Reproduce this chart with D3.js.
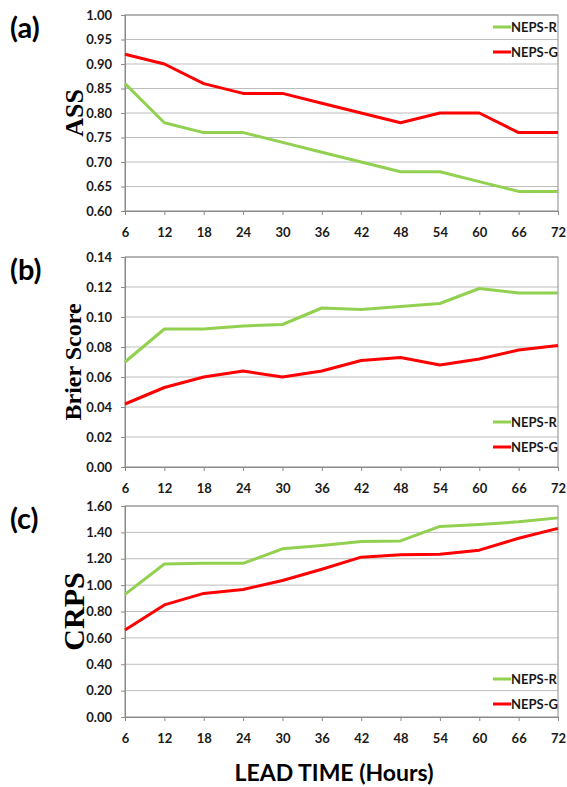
<!DOCTYPE html>
<html>
<head>
<meta charset="utf-8">
<script src="https://cdn.jsdelivr.net/npm/d3@7"></script>
<style>
  body { margin: 0; background: #fff; }
  svg text { font-family: Lato, "Open Sans", sans-serif; }
</style>
</head>
<body>
<div id="chart"></div>
<script>
// lead times (hours)
const leadTimes = [6, 12, 18, 24, 30, 36, 42, 48, 54, 60, 66, 72];
const seriesNames = ["NEPS-R", "NEPS-G"];

// (a) ASS
const assR = [0.86, 0.78, 0.76, 0.76, 0.74, 0.72, 0.70, 0.68, 0.68, 0.66, 0.64, 0.64];
const assG = [0.92, 0.90, 0.86, 0.84, 0.84, 0.82, 0.80, 0.78, 0.80, 0.80, 0.76, 0.76];
const assTicks = [0.60, 0.65, 0.70, 0.75, 0.80, 0.85, 0.90, 0.95, 1.00];

// (b) Brier Score
const brierR = [0.070, 0.092, 0.092, 0.094, 0.095, 0.106, 0.105, 0.107, 0.109, 0.119, 0.116, 0.116];
const brierG = [0.042, 0.053, 0.060, 0.064, 0.060, 0.064, 0.071, 0.073, 0.068, 0.072, 0.078, 0.081];
const brierTicks = [0, 0.02, 0.04, 0.06, 0.08, 0.10, 0.12, 0.14];

// (c) CRPS
const crpsR = [0.93, 1.16, 1.165, 1.165, 1.275, 1.30, 1.33, 1.335, 1.445, 1.46, 1.48, 1.51];
const crpsG = [0.66, 0.85, 0.937, 0.967, 1.035, 1.12, 1.212, 1.23, 1.235, 1.265, 1.355, 1.43];
const crpsTicks = [0, 0.20, 0.40, 0.60, 0.80, 1.00, 1.20, 1.40, 1.60];

const colors = { "NEPS-R": "#92d050", "NEPS-G": "#ff0000" };

const W = 567, H = 787;
const left = 125, right = 558;

const svg = d3.select("#chart").append("svg")
  .attr("width", W)
  .attr("height", H);

const x = d3.scaleLinear().domain([6, 72]).range([left, right]);

/**
 * draw one panel
 */
function drawPanel(p) {
  const y = d3.scaleLinear().domain([p.ticks[0], p.ticks[p.ticks.length - 1]]).range([p.bottom, p.top]);
  const g = svg.append("g");

  // gridlines
  g.selectAll(".grid")
      .data(p.ticks.slice(1))
    .enter().append("line")
      .attr("x1", left).attr("x2", right)
      .attr("y1", d => y(d)).attr("y2", d => y(d))
      .attr("stroke", "#bdbdbd")
      .attr("stroke-width", 1);

  // plot box
  g.append("rect")
    .attr("x", left).attr("y", p.top)
    .attr("width", right - left).attr("height", p.bottom - p.top)
    .attr("fill", "none")
    .attr("stroke", "#8a8a8a")
    .attr("stroke-width", 1);

  // x axis
  const xAxis = d3.axisBottom(x).tickValues(leadTimes).tickSize(4).tickPadding(13);
  const xg = g.append("g")
    .attr("transform", `translate(0,${p.bottom})`)
    .call(xAxis);
  xg.select(".domain").attr("stroke", "#8a8a8a");
  xg.selectAll(".tick line").attr("stroke", "#8a8a8a");
  xg.selectAll(".tick text")
    .attr("font-size", 13).attr("font-weight", "bold").attr("fill", "#1a1a1a")
    .style("font-family", "Lato, sans-serif");

  // y axis
  const yAxis = d3.axisLeft(y).tickValues(p.ticks).tickSize(4).tickPadding(9)
    .tickFormat(d3.format(p.fmt));
  const yg = g.append("g")
    .attr("transform", `translate(${left},0)`)
    .call(yAxis);
  yg.select(".domain").attr("stroke", "#8a8a8a");
  yg.selectAll(".tick line").attr("stroke", "#8a8a8a");
  yg.selectAll(".tick text")
    .attr("font-size", 13).attr("font-weight", "bold").attr("fill", "#1a1a1a")
    .style("font-family", "Lato, sans-serif");

  // lines
  const line = d3.line()
    .x((d, i) => x(leadTimes[i]))
    .y(d => y(d));

  p.series.forEach((s, k) => {
    g.append("path")
      .datum(s)
      .attr("fill", "none")
      .attr("stroke", colors[seriesNames[k]])
      .attr("stroke-width", 3)
      .attr("stroke-linejoin", "round")
      .attr("d", line);
  });

  // legend
  seriesNames.forEach((name, k) => {
    const ly = p.legendY + k * 25;
    g.append("line")
      .attr("x1", 493).attr("x2", 511)
      .attr("y1", ly).attr("y2", ly)
      .attr("stroke", colors[name])
      .attr("stroke-width", 3);
    g.append("text")
      .attr("x", 511).attr("y", ly)
      .attr("dy", "0.35em")
      .attr("font-size", 13)
      .attr("font-weight", "bold")
      .attr("fill", "#1a1a1a")
      .text(name);
  });

  // panel letter
  g.append("text")
    .attr("x", 10).attr("y", p.top + 23)
    .attr("font-size", 29)
    .attr("font-weight", "bold")
    .attr("fill", "#000")
    .text(p.letter);

  // y title
  g.append("text")
    .attr("transform", `translate(${p.titleX},${(p.top + p.bottom) / 2}) rotate(-90)`)
    .attr("text-anchor", "middle")
    .attr("font-size", p.titleSize)
    .attr("font-weight", "bold")
    .style("font-family", "'Liberation Serif', 'DejaVu Serif', serif")
    .attr("fill", "#000")
    .text(p.title);
}

drawPanel({ letter: "(a)", title: "ASS", titleSize: 26, titleX: 83, top: 15, bottom: 211,
  ticks: assTicks, fmt: ".2f", series: [assR, assG], legendY: 27 });
drawPanel({ letter: "(b)", title: "Brier Score", titleSize: 24, titleX: 81, top: 257, bottom: 467,
  ticks: brierTicks, fmt: ".2f", series: [brierR, brierG], legendY: 422 });
drawPanel({ letter: "(c)", title: "CRPS", titleSize: 30, titleX: 84, top: 506, bottom: 717,
  ticks: crpsTicks, fmt: ".2f", series: [crpsR, crpsG], legendY: 679 });

// x axis title
svg.append("text")
  .attr("x", 334).attr("y", 781)
  .attr("text-anchor", "middle")
  .attr("font-size", 23)
  .attr("font-weight", "bold")
  .attr("fill", "#000")
  .text("LEAD TIME (Hours)");
</script>
</body>
</html>
